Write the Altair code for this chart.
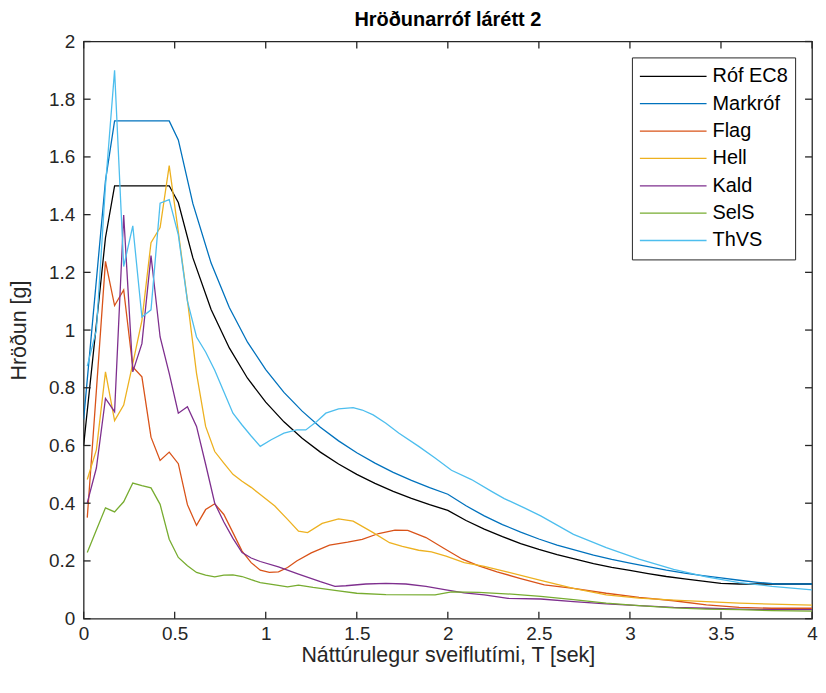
import altair as alt
import pandas as pd

names = ["Róf EC8", "Markróf", "Flag", "Hell", "Kald", "SelS", "ThVS"]
colors = ["#000000", "#0072BD", "#D95319", "#EDB120", "#7E2F8E", "#77AC30", "#4DBEEE"]

# EC8 design spectrum and target spectrum
T_ec8 = [0, 0.12, 0.17, 0.47, 0.52, 0.6, 0.7, 0.8, 0.9, 1.0, 1.1, 1.2, 1.3, 1.4, 1.5,
         1.6, 1.7, 1.8, 1.9, 2.0, 2.1, 2.2, 2.3, 2.4, 2.5, 2.6, 2.7, 2.8, 2.9, 3.0,
         3.1, 3.2, 3.3, 3.4, 3.5, 3.6, 3.7, 3.8, 3.9, 4.0]
rof_ec8 = [0.6, 1.32, 1.5, 1.5, 1.442, 1.25, 1.071, 0.938, 0.833, 0.75, 0.682, 0.625,
           0.577, 0.536, 0.5, 0.469, 0.441, 0.417, 0.395, 0.375, 0.340, 0.310, 0.284,
           0.260, 0.24, 0.222, 0.206, 0.191, 0.178, 0.167, 0.156, 0.146, 0.138, 0.130,
           0.122, 0.12, 0.12, 0.12, 0.12, 0.12]
markrof = [0.69, 1.518, 1.725, 1.725, 1.659, 1.438, 1.232, 1.078, 0.958, 0.863, 0.784,
           0.719, 0.663, 0.616, 0.575, 0.539, 0.507, 0.479, 0.454, 0.431, 0.391, 0.356,
           0.326, 0.300, 0.276, 0.255, 0.237, 0.220, 0.205, 0.192, 0.180, 0.168, 0.158,
           0.149, 0.141, 0.133, 0.126, 0.12, 0.12, 0.12]

T_flag = [0.02, 0.07, 0.12, 0.17, 0.22, 0.27, 0.32, 0.37, 0.42, 0.47, 0.52, 0.57, 0.62,
          0.67, 0.72, 0.77, 0.82, 0.87, 0.92, 0.97, 1.02, 1.07, 1.12, 1.17, 1.25, 1.35,
          1.45, 1.53, 1.62, 1.71, 1.78, 1.88, 1.98, 2.08, 2.17, 2.27, 2.4, 2.53, 2.69,
          2.87, 3.05, 3.24, 3.42, 3.6, 3.78, 4.0]
flag = [0.35, 0.79, 1.238, 1.085, 1.139, 0.872, 0.838, 0.629, 0.548, 0.577, 0.537, 0.395,
        0.323, 0.378, 0.398, 0.361, 0.298, 0.234, 0.194, 0.168, 0.160, 0.162, 0.177, 0.2,
        0.228, 0.255, 0.265, 0.275, 0.295, 0.307, 0.306, 0.281, 0.243, 0.206, 0.183,
        0.162, 0.139, 0.117, 0.105, 0.088, 0.074, 0.062, 0.048, 0.039, 0.036, 0.036]

T_hell = [0.02, 0.07, 0.12, 0.17, 0.22, 0.27, 0.32, 0.37, 0.42, 0.47, 0.52, 0.57, 0.62,
          0.67, 0.72, 0.77, 0.82, 0.87, 0.92, 0.97, 1.05, 1.12, 1.18, 1.23, 1.31, 1.40,
          1.48, 1.59, 1.68, 1.75, 1.84, 1.91, 1.99, 2.09, 2.2, 2.33, 2.51, 2.69, 2.87,
          3.05, 3.24, 3.42, 3.6, 3.78, 4.0]
hell = [0.482, 0.585, 0.855, 0.686, 0.74, 0.884, 1.033, 1.303, 1.355, 1.570, 1.34, 1.104,
        0.85, 0.666, 0.579, 0.539, 0.500, 0.476, 0.455, 0.43, 0.39, 0.344, 0.303, 0.298,
        0.33, 0.346, 0.338, 0.298, 0.263, 0.25, 0.237, 0.231, 0.217, 0.194, 0.181, 0.161,
        0.133, 0.105, 0.082, 0.071, 0.064, 0.059, 0.054, 0.05, 0.047]

T_kald = [0.02, 0.07, 0.12, 0.17, 0.22, 0.27, 0.32, 0.37, 0.42, 0.47, 0.52, 0.57, 0.62,
          0.67, 0.72, 0.77, 0.82, 0.87, 0.92, 0.97, 1.07, 1.18, 1.3, 1.38, 1.44, 1.55,
          1.66, 1.77, 1.88, 1.99, 2.09, 2.2, 2.33, 2.51, 2.69, 2.87, 3.05, 3.24, 3.42,
          3.6, 3.78, 4.0]
kald = [0.401, 0.522, 0.763, 0.717, 1.399, 0.855, 0.953, 1.258, 0.976, 0.85, 0.712, 0.734,
        0.666, 0.535, 0.40, 0.335, 0.278, 0.229, 0.21, 0.198, 0.179, 0.154, 0.128, 0.112,
        0.114, 0.12, 0.122, 0.12, 0.112, 0.1, 0.089, 0.082, 0.07, 0.068, 0.059, 0.051,
        0.045, 0.039, 0.036, 0.033, 0.031, 0.031]

T_sels = [0.02, 0.07, 0.12, 0.17, 0.22, 0.27, 0.32, 0.37, 0.42, 0.47, 0.52, 0.57, 0.62,
          0.67, 0.72, 0.77, 0.82, 0.87, 0.92, 0.97, 1.06, 1.12, 1.18, 1.26, 1.39, 1.5,
          1.66, 1.93, 2.02, 2.17, 2.35, 2.51, 2.69, 2.87, 3.05, 3.24, 3.42, 3.6, 3.78, 4.0]
sels = [0.229, 0.307, 0.384, 0.37, 0.405, 0.47, 0.461, 0.453, 0.396, 0.275, 0.212, 0.183,
        0.16, 0.151, 0.145, 0.151, 0.152, 0.146, 0.135, 0.125, 0.116, 0.11, 0.116, 0.108,
        0.097, 0.088, 0.083, 0.082, 0.093, 0.091, 0.085, 0.077, 0.066, 0.054, 0.045,
        0.037, 0.033, 0.031, 0.028, 0.026]

T_thvs = [0.02, 0.07, 0.12, 0.17, 0.22, 0.27, 0.32, 0.37, 0.42, 0.47, 0.52, 0.57, 0.62,
          0.67, 0.72, 0.77, 0.82, 0.87, 0.92, 0.97, 1.03, 1.1, 1.17, 1.22, 1.28, 1.33,
          1.4, 1.48, 1.53, 1.59, 1.66, 1.73, 1.84, 1.93, 2.02, 2.13, 2.24, 2.31, 2.42,
          2.51, 2.69, 2.87, 3.05, 3.24, 3.42, 3.6, 3.78, 4.0]
thvs = [0.875, 1.0, 1.5, 1.90, 1.22, 1.361, 1.045, 1.07, 1.44, 1.452, 1.33, 1.10, 0.976,
        0.924, 0.861, 0.786, 0.712, 0.671, 0.633, 0.597, 0.62, 0.643, 0.654, 0.654, 0.683,
        0.712, 0.727, 0.731, 0.723, 0.706, 0.677, 0.643, 0.597, 0.557, 0.514, 0.482,
        0.441, 0.416, 0.384, 0.356, 0.292, 0.246, 0.206, 0.171, 0.145, 0.125, 0.112, 0.100]

xticks = [0, 0.5, 1, 1.5, 2, 2.5, 3, 3.5, 4]
yticks = [0, 0.2, 0.4, 0.6, 0.8, 1, 1.2, 1.4, 1.6, 1.8, 2]

series = [
    ("Róf EC8", T_ec8, rof_ec8),
    ("Markróf", T_ec8, markrof),
    ("Flag", T_flag, flag),
    ("Hell", T_hell, hell),
    ("Kald", T_kald, kald),
    ("SelS", T_sels, sels),
    ("ThVS", T_thvs, thvs),
]
rows = []
for name, ts, vs in series:
    for i, (t, v) in enumerate(zip(ts, vs)):
        rows.append({"T": t, "Sa": v, "series": name, "idx": i})
df = pd.DataFrame(rows)

W, H = 732, 580
FONT = "Liberation Sans"
xscale = alt.Scale(domain=[0, 4], nice=False, zero=False)
yscale = alt.Scale(domain=[0, 2], nice=False, zero=False)
xaxis = alt.Axis(values=xticks, format="~g", title="Náttúrulegur sveiflutími, T [sek]",
                 labelPadding=6, titlePadding=1, labelFlush=False)
yaxis = alt.Axis(values=yticks, format="~g", title="Hröðun [g]",
                 labelPadding=9, titlePadding=18, labelFlush=False)

lines = alt.Chart(df).mark_line(strokeWidth=1.3, clip=True).encode(
    x=alt.X("T:Q", scale=xscale, axis=xaxis),
    y=alt.Y("Sa:Q", scale=yscale, axis=yaxis),
    color=alt.Color("series:N", scale=alt.Scale(domain=names, range=colors),
                    legend=alt.Legend(title=None, orient="none", legendX=551, legendY=16,
                                      symbolType="stroke", symbolSize=4489,
                                      symbolStrokeWidth=1.3, clipHeight=24, rowPadding=3.5,
                                      labelFontSize=20, labelFont=FONT, labelColor="#000000",
                                      labelOffset=5, padding=7, strokeColor="#262626",
                                      fillColor="white", symbolOffset=0, labelLimit=300)),
    detail="series:N",
    order="idx:Q",
)

xt = pd.DataFrame({"T": xticks})
yt = pd.DataFrame({"Sa": yticks})
tick_style = dict(color="#262626", strokeWidth=1.3)
bottom = alt.Chart(xt).mark_rule(**tick_style).encode(
    x=alt.X("T:Q", scale=xscale, axis=xaxis), y=alt.value(H), y2=alt.value(H - 7))
top = alt.Chart(xt).mark_rule(**tick_style).encode(
    x=alt.X("T:Q", scale=xscale, axis=xaxis), y=alt.value(0), y2=alt.value(7))
left = alt.Chart(yt).mark_rule(**tick_style).encode(
    y=alt.Y("Sa:Q", scale=yscale, axis=yaxis), x=alt.value(0), x2=alt.value(7))
right = alt.Chart(yt).mark_rule(**tick_style).encode(
    y=alt.Y("Sa:Q", scale=yscale, axis=yaxis), x=alt.value(W), x2=alt.value(W - 7))

chart = alt.layer(lines, bottom, top, left, right).properties(
    width=W, height=H,
    title=alt.Title("Hröðunarróf lárétt 2", fontSize=20, fontWeight="bold", font=FONT,
                    color="#000000", offset=3),
    padding={"left": 76, "top": 32, "right": 6, "bottom": 58},
    autosize=alt.AutoSizeParams(type="none"),
).configure_view(stroke="#262626", strokeWidth=1.3).configure_axis(
    grid=False, domain=False, ticks=False, labelFont=FONT, labelFontSize=19,
    labelColor="#262626", titleFont=FONT, titleFontSize=21.5, titleFontWeight="normal",
    titleColor="#262626")

chart.save("out.html", embed_options={"renderer": "svg", "actions": False})
